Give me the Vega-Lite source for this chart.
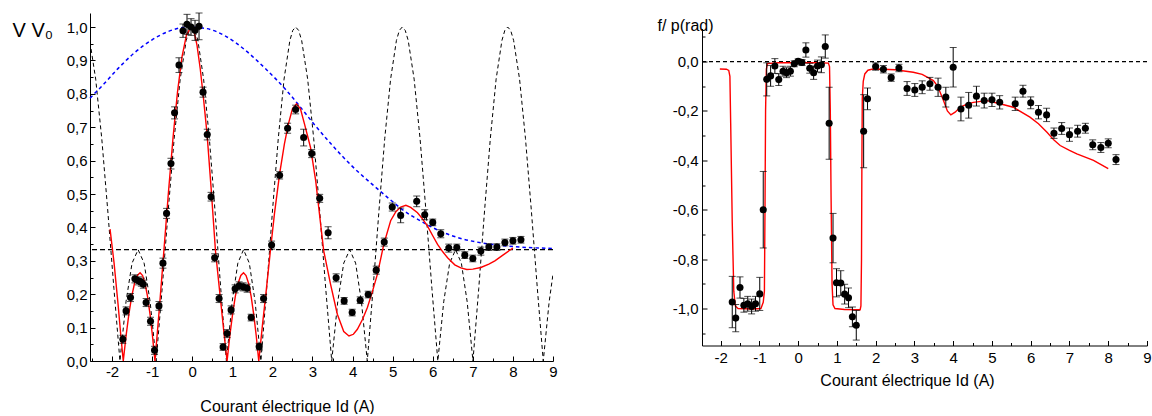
{
  "$schema": "https://vega.github.io/schema/vega-lite/v6.json",
  "padding": {"left": 12, "top": 12, "right": 0, "bottom": 0},
  "background": "white",
  "spacing": 149,
  "bounds": "flush",
  "center": true,
  "config": {
    "view": {"stroke": null},
    "font": "Liberation Sans",
    "axis": {
      "grid": false,
      "domainColor": "black",
      "domainWidth": 1,
      "tickColor": "black",
      "tickWidth": 1,
      "labelColor": "black",
      "titleColor": "black",
      "labelFont": "Liberation Sans",
      "titleFont": "Liberation Sans",
      "labelFontSize": 15,
      "titleFontSize": 16,
      "titleFontWeight": "normal",
      "labelFlush": false,
      "labelOverlap": false
    }
  },
  "datasets": {
    "leftPts": [
      {"I": -1.73, "v": 0.065, "e": 0.012}, {"I": -1.65, "v": 0.150, "e": 0.012}, {"I": -1.54, "v": 0.190, "e": 0.012},
      {"I": -1.43, "v": 0.246, "e": 0.012}, {"I": -1.34, "v": 0.240, "e": 0.012}, {"I": -1.27, "v": 0.236, "e": 0.012},
      {"I": -1.22, "v": 0.230, "e": 0.012}, {"I": -1.15, "v": 0.175, "e": 0.012}, {"I": -1.04, "v": 0.119, "e": 0.012},
      {"I": -0.94, "v": 0.032, "e": 0.012}, {"I": -0.83, "v": 0.165, "e": 0.013}, {"I": -0.73, "v": 0.293, "e": 0.015},
      {"I": -0.64, "v": 0.442, "e": 0.015}, {"I": -0.53, "v": 0.591, "e": 0.016}, {"I": -0.44, "v": 0.743, "e": 0.018},
      {"I": -0.33, "v": 0.886, "e": 0.022}, {"I": -0.23, "v": 0.989, "e": 0.02}, {"I": -0.13, "v": 1.008, "e": 0.03},
      {"I": -0.03, "v": 1.0, "e": 0.025}, {"I": 0.07, "v": 0.99, "e": 0.03}, {"I": 0.17, "v": 1.002, "e": 0.04},
      {"I": 0.27, "v": 0.805, "e": 0.015}, {"I": 0.375, "v": 0.678, "e": 0.016}, {"I": 0.47, "v": 0.492, "e": 0.013},
      {"I": 0.56, "v": 0.309, "e": 0.012}, {"I": 0.67, "v": 0.187, "e": 0.012}, {"I": 0.77, "v": 0.042, "e": 0.01},
      {"I": 0.87, "v": 0.082, "e": 0.012}, {"I": 0.97, "v": 0.153, "e": 0.012}, {"I": 1.07, "v": 0.216, "e": 0.012},
      {"I": 1.17, "v": 0.225, "e": 0.012}, {"I": 1.27, "v": 0.222, "e": 0.012}, {"I": 1.37, "v": 0.218, "e": 0.012},
      {"I": 1.47, "v": 0.13, "e": 0.01}, {"I": 1.67, "v": 0.043, "e": 0.01}, {"I": 1.78, "v": 0.187, "e": 0.012},
      {"I": 1.98, "v": 0.347, "e": 0.012}, {"I": 2.18, "v": 0.556, "e": 0.011}, {"I": 2.38, "v": 0.697, "e": 0.015},
      {"I": 2.58, "v": 0.753, "e": 0.013}, {"I": 2.78, "v": 0.669, "e": 0.025}, {"I": 2.98, "v": 0.621, "e": 0.012},
      {"I": 3.18, "v": 0.487, "e": 0.012}, {"I": 3.39, "v": 0.384, "e": 0.018}, {"I": 3.59, "v": 0.249, "e": 0.012},
      {"I": 3.79, "v": 0.18, "e": 0.01}, {"I": 3.99, "v": 0.145, "e": 0.01}, {"I": 4.19, "v": 0.182, "e": 0.01},
      {"I": 4.39, "v": 0.199, "e": 0.01}, {"I": 4.59, "v": 0.272, "e": 0.012}, {"I": 4.79, "v": 0.356, "e": 0.012},
      {"I": 4.99, "v": 0.461, "e": 0.012}, {"I": 5.2, "v": 0.436, "e": 0.022}, {"I": 5.6, "v": 0.478, "e": 0.016},
      {"I": 5.8, "v": 0.438, "e": 0.015}, {"I": 6.0, "v": 0.415, "e": 0.01}, {"I": 6.2, "v": 0.381, "e": 0.012},
      {"I": 6.4, "v": 0.338, "e": 0.012}, {"I": 6.6, "v": 0.34, "e": 0.01}, {"I": 6.8, "v": 0.317, "e": 0.01},
      {"I": 7.0, "v": 0.307, "e": 0.01}, {"I": 7.2, "v": 0.329, "e": 0.012}, {"I": 7.4, "v": 0.341, "e": 0.01},
      {"I": 7.6, "v": 0.341, "e": 0.01}, {"I": 7.8, "v": 0.355, "e": 0.01}, {"I": 8.0, "v": 0.36, "e": 0.01},
      {"I": 8.2, "v": 0.363, "e": 0.01}
    ],
    "leftFit": [
      {"I": -2.05, "v": 0.395}, {"I": -1.95, "v": 0.294}, {"I": -1.85, "v": 0.17}, {"I": -1.78, "v": 0.075},
      {"I": -1.72, "v": 0}, {"I": -1.65, "v": 0.0755}, {"I": -1.58, "v": 0.1404}, {"I": -1.51, "v": 0.1932},
      {"I": -1.44, "v": 0.232}, {"I": -1.37, "v": 0.256}, {"I": -1.3, "v": 0.264}, {"I": -1.238, "v": 0.256},
      {"I": -1.177, "v": 0.232}, {"I": -1.115, "v": 0.1932}, {"I": -1.053, "v": 0.1404}, {"I": -0.992, "v": 0.0755},
      {"I": -0.93, "v": 0}, {"I": -0.8175, "v": 0.161}, {"I": -0.705, "v": 0.333}, {"I": -0.5925, "v": 0.506},
      {"I": -0.48, "v": 0.667}, {"I": -0.3675, "v": 0.805}, {"I": -0.255, "v": 0.911}, {"I": -0.1425, "v": 0.977},
      {"I": -0.03, "v": 1.0}, {"I": 0.05, "v": 0.985}, {"I": 0.12, "v": 0.945}, {"I": 0.2, "v": 0.875},
      {"I": 0.27, "v": 0.8}, {"I": 0.37, "v": 0.68}, {"I": 0.47, "v": 0.52}, {"I": 0.58, "v": 0.33},
      {"I": 0.7, "v": 0.19}, {"I": 0.8, "v": 0.075}, {"I": 0.87, "v": 0}, {"I": 0.938, "v": 0.0755},
      {"I": 1.007, "v": 0.1404}, {"I": 1.075, "v": 0.1932}, {"I": 1.143, "v": 0.232}, {"I": 1.212, "v": 0.256},
      {"I": 1.28, "v": 0.264}, {"I": 1.343, "v": 0.256}, {"I": 1.407, "v": 0.232}, {"I": 1.47, "v": 0.1932},
      {"I": 1.533, "v": 0.1404}, {"I": 1.597, "v": 0.0755}, {"I": 1.66, "v": 0}, {"I": 1.75, "v": 0.105},
      {"I": 1.85, "v": 0.215}, {"I": 1.95, "v": 0.33}, {"I": 2.05, "v": 0.44}, {"I": 2.18, "v": 0.56},
      {"I": 2.3, "v": 0.65}, {"I": 2.4, "v": 0.71}, {"I": 2.5, "v": 0.755}, {"I": 2.6, "v": 0.77},
      {"I": 2.7, "v": 0.755}, {"I": 2.8, "v": 0.71}, {"I": 2.95, "v": 0.64}, {"I": 3.08, "v": 0.54},
      {"I": 3.16, "v": 0.455}, {"I": 3.28, "v": 0.33}, {"I": 3.45, "v": 0.23}, {"I": 3.62, "v": 0.14},
      {"I": 3.78, "v": 0.088}, {"I": 3.91, "v": 0.075}, {"I": 4.02, "v": 0.08}, {"I": 4.12, "v": 0.095},
      {"I": 4.25, "v": 0.125}, {"I": 4.37, "v": 0.16}, {"I": 4.5, "v": 0.21}, {"I": 4.62, "v": 0.26},
      {"I": 4.78, "v": 0.35}, {"I": 4.95, "v": 0.42}, {"I": 5.08, "v": 0.447}, {"I": 5.2, "v": 0.461},
      {"I": 5.33, "v": 0.466}, {"I": 5.45, "v": 0.46}, {"I": 5.62, "v": 0.444}, {"I": 5.75, "v": 0.425},
      {"I": 5.87, "v": 0.404}, {"I": 6.0, "v": 0.375}, {"I": 6.12, "v": 0.349}, {"I": 6.25, "v": 0.327},
      {"I": 6.37, "v": 0.309}, {"I": 6.55, "v": 0.288}, {"I": 6.7, "v": 0.279}, {"I": 6.85, "v": 0.274},
      {"I": 7.0, "v": 0.275}, {"I": 7.2, "v": 0.28}, {"I": 7.4, "v": 0.29}, {"I": 7.55, "v": 0.3},
      {"I": 7.75, "v": 0.317}, {"I": 7.95, "v": 0.334}, {"I": 8.0, "v": 0.338}
    ],
    "leftIdeal": [
      {"I": -2.55, "v": 0.955}, {"I": -2.408, "v": 0.844}, {"I": -2.257, "v": 0.6667}, {"I": -2.106, "v": 0.4491},
      {"I": -1.954, "v": 0.2176}, {"I": -1.803, "v": 0}, {"I": -1.652, "v": 0.1773}, {"I": -1.501, "v": 0.2931},
      {"I": -1.35, "v": 0.3333}, {"I": -1.2, "v": 0.2931}, {"I": -1.05, "v": 0.1773}, {"I": -0.9, "v": 0},
      {"I": -0.75, "v": 0.2176}, {"I": -0.6, "v": 0.4491}, {"I": -0.45, "v": 0.6667}, {"I": -0.3, "v": 0.844},
      {"I": -0.15, "v": 0.9598}, {"I": -0.075, "v": 0.9899}, {"I": 0, "v": 1}, {"I": 0.071, "v": 0.9899},
      {"I": 0.142, "v": 0.9598}, {"I": 0.284, "v": 0.844}, {"I": 0.427, "v": 0.6667}, {"I": 0.569, "v": 0.4491},
      {"I": 0.711, "v": 0.2176}, {"I": 0.853, "v": 0}, {"I": 0.996, "v": 0.1773}, {"I": 1.138, "v": 0.2931},
      {"I": 1.28, "v": 0.3333}, {"I": 1.424, "v": 0.2931}, {"I": 1.569, "v": 0.1773}, {"I": 1.713, "v": 0},
      {"I": 1.858, "v": 0.2176}, {"I": 2.002, "v": 0.4491}, {"I": 2.147, "v": 0.6667}, {"I": 2.291, "v": 0.844},
      {"I": 2.436, "v": 0.9598}, {"I": 2.508, "v": 0.9899}, {"I": 2.58, "v": 1}, {"I": 2.655, "v": 0.9899},
      {"I": 2.73, "v": 0.9598}, {"I": 2.88, "v": 0.844}, {"I": 3.03, "v": 0.6667}, {"I": 3.18, "v": 0.4491},
      {"I": 3.33, "v": 0.2176}, {"I": 3.48, "v": 0}, {"I": 3.63, "v": 0.1773}, {"I": 3.78, "v": 0.2931},
      {"I": 3.93, "v": 0.3333}, {"I": 4.076, "v": 0.2931}, {"I": 4.221, "v": 0.1773}, {"I": 4.367, "v": 0},
      {"I": 4.512, "v": 0.2176}, {"I": 4.658, "v": 0.4491}, {"I": 4.803, "v": 0.6667}, {"I": 4.949, "v": 0.844},
      {"I": 5.094, "v": 0.9598}, {"I": 5.167, "v": 0.9899}, {"I": 5.24, "v": 1}, {"I": 5.314, "v": 0.9899},
      {"I": 5.388, "v": 0.9598}, {"I": 5.536, "v": 0.844}, {"I": 5.683, "v": 0.6667}, {"I": 5.831, "v": 0.4491},
      {"I": 5.979, "v": 0.2176}, {"I": 6.127, "v": 0}, {"I": 6.274, "v": 0.1773}, {"I": 6.422, "v": 0.2931},
      {"I": 6.57, "v": 0.3333}, {"I": 6.714, "v": 0.2931}, {"I": 6.859, "v": 0.1773}, {"I": 7.003, "v": 0},
      {"I": 7.148, "v": 0.2176}, {"I": 7.292, "v": 0.4491}, {"I": 7.437, "v": 0.6667}, {"I": 7.581, "v": 0.844},
      {"I": 7.726, "v": 0.9598}, {"I": 7.798, "v": 0.9899}, {"I": 7.87, "v": 1}, {"I": 7.944, "v": 0.9899},
      {"I": 8.018, "v": 0.9598}, {"I": 8.166, "v": 0.844}, {"I": 8.313, "v": 0.6667}, {"I": 8.461, "v": 0.4491},
      {"I": 8.609, "v": 0.2176}, {"I": 8.757, "v": 0}, {"I": 8.904, "v": 0.1773}, {"I": 9.0, "v": 0.26}
    ],
    "leftEnv": [
      {"I": -2.55, "v": 0.787}, {"I": -2.2, "v": 0.83}, {"I": -1.84, "v": 0.877}, {"I": -1.43, "v": 0.924},
      {"I": -1.01, "v": 0.961}, {"I": -0.59, "v": 0.987}, {"I": -0.1, "v": 1.0}, {"I": 0.33, "v": 0.996},
      {"I": 0.83, "v": 0.973}, {"I": 1.33, "v": 0.93}, {"I": 1.83, "v": 0.875}, {"I": 2.33, "v": 0.813},
      {"I": 2.6, "v": 0.775}, {"I": 3.0, "v": 0.715}, {"I": 3.5, "v": 0.645}, {"I": 4.0, "v": 0.582},
      {"I": 4.5, "v": 0.528}, {"I": 5.0, "v": 0.477}, {"I": 5.2, "v": 0.457}, {"I": 5.7, "v": 0.419},
      {"I": 6.2, "v": 0.388}, {"I": 6.7, "v": 0.367}, {"I": 7.2, "v": 0.354}, {"I": 7.7, "v": 0.346},
      {"I": 8.2, "v": 0.341}, {"I": 9.0, "v": 0.337}
    ],
    "leftRef": [{"v": 0.3333}],
    "rightPts": [
      {"I": -1.70, "v": -0.974, "e": 0.104}, {"I": -1.61, "v": -1.039, "e": 0.055}, {"I": -1.50, "v": -0.915, "e": 0.043},
      {"I": -1.40, "v": -0.987, "e": 0.028}, {"I": -1.30, "v": -0.981, "e": 0.03}, {"I": -1.20, "v": -0.992, "e": 0.03},
      {"I": -1.10, "v": -0.981, "e": 0.03}, {"I": -0.99, "v": -0.941, "e": 0.067}, {"I": -0.90, "v": -0.600, "e": 0.155},
      {"I": -0.81, "v": -0.072, "e": 0.067}, {"I": -0.71, "v": -0.058, "e": 0.042}, {"I": -0.60, "v": -0.018, "e": 0.03},
      {"I": -0.50, "v": -0.073, "e": 0.024}, {"I": -0.39, "v": -0.039, "e": 0.02}, {"I": -0.30, "v": -0.045, "e": 0.02},
      {"I": -0.20, "v": -0.039, "e": 0.02}, {"I": -0.10, "v": -0.009, "e": 0.012}, {"I": 0.00, "v": 0.001, "e": 0.01},
      {"I": 0.10, "v": -0.004, "e": 0.012}, {"I": 0.20, "v": 0.047, "e": 0.029}, {"I": 0.30, "v": -0.027, "e": 0.02},
      {"I": 0.40, "v": -0.045, "e": 0.027}, {"I": 0.50, "v": -0.018, "e": 0.024}, {"I": 0.60, "v": -0.013, "e": 0.032},
      {"I": 0.70, "v": 0.061, "e": 0.047}, {"I": 0.80, "v": -0.250, "e": 0.146}, {"I": 0.90, "v": -0.715, "e": 0.1},
      {"I": 0.99, "v": -0.896, "e": 0.057}, {"I": 1.10, "v": -0.897, "e": 0.05}, {"I": 1.20, "v": -0.942, "e": 0.04},
      {"I": 1.30, "v": -0.957, "e": 0.04}, {"I": 1.40, "v": -1.034, "e": 0.04}, {"I": 1.50, "v": -1.068, "e": 0.06},
      {"I": 1.69, "v": -0.282, "e": 0.148}, {"I": 1.79, "v": -0.151, "e": 0.044}, {"I": 2.00, "v": -0.020, "e": 0.015},
      {"I": 2.20, "v": -0.031, "e": 0.015}, {"I": 2.40, "v": -0.065, "e": 0.015}, {"I": 2.60, "v": -0.026, "e": 0.015},
      {"I": 2.81, "v": -0.109, "e": 0.028}, {"I": 3.01, "v": -0.115, "e": 0.026}, {"I": 3.20, "v": -0.104, "e": 0.026},
      {"I": 3.40, "v": -0.090, "e": 0.026}, {"I": 3.61, "v": -0.104, "e": 0.037}, {"I": 3.81, "v": -0.144, "e": 0.04},
      {"I": 4.00, "v": -0.023, "e": 0.08}, {"I": 4.20, "v": -0.192, "e": 0.048}, {"I": 4.40, "v": -0.177, "e": 0.052},
      {"I": 4.60, "v": -0.140, "e": 0.04}, {"I": 4.80, "v": -0.158, "e": 0.03}, {"I": 5.00, "v": -0.155, "e": 0.027},
      {"I": 5.20, "v": -0.165, "e": 0.027}, {"I": 5.60, "v": -0.171, "e": 0.027}, {"I": 5.80, "v": -0.120, "e": 0.024},
      {"I": 6.00, "v": -0.167, "e": 0.024}, {"I": 6.20, "v": -0.205, "e": 0.027}, {"I": 6.41, "v": -0.216, "e": 0.027},
      {"I": 6.60, "v": -0.290, "e": 0.021}, {"I": 6.80, "v": -0.271, "e": 0.024}, {"I": 7.00, "v": -0.296, "e": 0.027},
      {"I": 7.21, "v": -0.282, "e": 0.024}, {"I": 7.41, "v": -0.270, "e": 0.02}, {"I": 7.60, "v": -0.337, "e": 0.02},
      {"I": 7.81, "v": -0.348, "e": 0.02}, {"I": 8.00, "v": -0.331, "e": 0.018}, {"I": 8.20, "v": -0.397, "e": 0.02}
    ],
    "rightFit": [
      {"I": -2.02, "v": -0.03}, {"I": -1.85, "v": -0.031}, {"I": -1.79, "v": -0.036}, {"I": -1.76, "v": -0.06},
      {"I": -1.74, "v": -0.25}, {"I": -1.7, "v": -0.65}, {"I": -1.66, "v": -0.93}, {"I": -1.62, "v": -0.99},
      {"I": -1.55, "v": -1.0}, {"I": -1.2, "v": -1.002}, {"I": -0.96, "v": -1.0}, {"I": -0.9, "v": -0.975},
      {"I": -0.87, "v": -0.93}, {"I": -0.855, "v": -0.6}, {"I": -0.84, "v": -0.2}, {"I": -0.82, "v": -0.03},
      {"I": -0.79, "v": -0.008}, {"I": -0.5, "v": -0.005}, {"I": 0.5, "v": -0.005}, {"I": 0.78, "v": -0.006},
      {"I": 0.81, "v": -0.02}, {"I": 0.83, "v": -0.2}, {"I": 0.85, "v": -0.55}, {"I": 0.875, "v": -0.9},
      {"I": 0.9, "v": -0.985}, {"I": 0.95, "v": -1.0}, {"I": 1.2, "v": -1.004}, {"I": 1.6, "v": -1.005},
      {"I": 1.62, "v": -0.99}, {"I": 1.635, "v": -0.8}, {"I": 1.645, "v": -0.4}, {"I": 1.655, "v": -0.15},
      {"I": 1.68, "v": -0.08}, {"I": 1.72, "v": -0.05}, {"I": 1.8, "v": -0.035}, {"I": 1.9, "v": -0.031},
      {"I": 2.03, "v": -0.03}, {"I": 2.5, "v": -0.033}, {"I": 2.97, "v": -0.043}, {"I": 3.2, "v": -0.052},
      {"I": 3.49, "v": -0.077}, {"I": 3.6, "v": -0.1}, {"I": 3.75, "v": -0.158}, {"I": 3.85, "v": -0.2},
      {"I": 3.94, "v": -0.216}, {"I": 4.05, "v": -0.205}, {"I": 4.18, "v": -0.185}, {"I": 4.35, "v": -0.172},
      {"I": 4.52, "v": -0.165}, {"I": 4.87, "v": -0.158}, {"I": 5.21, "v": -0.171}, {"I": 5.55, "v": -0.185},
      {"I": 5.98, "v": -0.225}, {"I": 6.2, "v": -0.252}, {"I": 6.42, "v": -0.286}, {"I": 6.6, "v": -0.318},
      {"I": 6.76, "v": -0.34}, {"I": 7.0, "v": -0.36}, {"I": 7.19, "v": -0.374}, {"I": 7.62, "v": -0.4},
      {"I": 8.0, "v": -0.434}
    ],
    "rightRef": [{"v": 0}]
  },
  "hconcat": [
    {
      "width": 463,
      "height": 348,
      "resolve": {"axis": {"x": "independent", "y": "independent"}},
      "layer": [
        {
          "data": {"name": "leftIdeal"},
          "mark": {"type": "line", "color": "black", "strokeWidth": 1, "strokeDash": [4, 3], "clip": true},
          "encoding": {
            "x": {"field": "I", "type": "quantitative", "scale": {"domain": [-2.55, 9], "nice": false, "zero": false},
              "axis": {"orient": "bottom", "values": [-2.5, -1.5, -0.5, 0.5, 1.5, 2.5, 3.5, 4.5, 5.5, 6.5, 7.5, 8.5], "offset": -3, "tickSize": 3, "labels": false, "domain": false, "title": null}},
            "y": {"field": "v", "type": "quantitative", "scale": {"domain": [0, 1.042], "nice": false, "zero": false},
              "axis": {"orient": "left", "values": [0.05, 0.15, 0.25, 0.35, 0.45, 0.55, 0.65, 0.75, 0.85, 0.95], "offset": -3, "tickSize": 3, "labels": false, "domain": false, "title": null}}
          }
        },
        {
          "data": {"name": "leftEnv"},
          "mark": {"type": "line", "color": "#0000ff", "strokeWidth": 1.5, "strokeDash": [3.5, 3], "interpolate": "monotone"},
          "encoding": {
            "x": {"field": "I", "type": "quantitative", "scale": {"domain": [-2.55, 9], "nice": false, "zero": false}, "axis": null},
            "y": {"field": "v", "type": "quantitative", "scale": {"domain": [0, 1.042], "nice": false, "zero": false}, "axis": null}
          }
        },
        {
          "data": {"name": "leftRef"},
          "mark": {"type": "rule", "color": "black", "strokeWidth": 1.3, "strokeDash": [5, 3]},
          "encoding": {
            "y": {"field": "v", "type": "quantitative", "scale": {"domain": [0, 1.042], "nice": false, "zero": false}, "axis": null}
          }
        },
        {
          "data": {"name": "leftFit"},
          "mark": {"type": "line", "color": "#ff0000", "strokeWidth": 1.4},
          "encoding": {
            "x": {"field": "I", "type": "quantitative", "scale": {"domain": [-2.55, 9], "nice": false, "zero": false},
              "axis": {"orient": "bottom", "values": [-2, -1, 0, 1, 2, 3, 4, 5, 6, 7, 8, 9], "offset": -5, "tickSize": 5, "labels": false, "domain": false, "title": null}},
            "y": {"field": "v", "type": "quantitative", "scale": {"domain": [0, 1.042], "nice": false, "zero": false},
              "axis": {"orient": "left", "values": [0, 0.1, 0.2, 0.3, 0.4, 0.5, 0.6, 0.7, 0.8, 0.9, 1.0], "offset": -5, "tickSize": 5, "labels": false, "domain": false, "title": null}}
          }
        },
        {
          "data": {"name": "leftPts"},
          "mark": {"type": "errorbar", "color": "black", "thickness": 1, "ticks": {"size": 7, "color": "black"}},
          "encoding": {
            "x": {"field": "I", "type": "quantitative", "scale": {"domain": [-2.55, 9], "nice": false, "zero": false}, "axis": null},
            "y": {"field": "v", "type": "quantitative", "scale": {"domain": [0, 1.042], "nice": false, "zero": false}, "axis": null},
            "yError": {"field": "e"}
          }
        },
        {
          "data": {"name": "leftPts"},
          "mark": {"type": "circle", "color": "black", "size": 50, "opacity": 1},
          "encoding": {
            "x": {"field": "I", "type": "quantitative", "scale": {"domain": [-2.55, 9], "nice": false, "zero": false},
              "axis": {"orient": "bottom", "values": [-2, -1, 0, 1, 2, 3, 4, 5, 6, 7, 8, 9], "ticks": false, "tickSize": 0, "labelPadding": 3,
                "labelExpr": "replace(format(datum.value, 'd'), '\u2212', '-')",
                "title": "Courant électrique Id (A)", "titleX": 197, "titleY": 50, "titleBaseline": "alphabetic", "titleAlign": "center"}},
            "y": {"field": "v", "type": "quantitative", "scale": {"domain": [0, 1.042], "nice": false, "zero": false},
              "axis": {"orient": "left", "values": [0, 0.1, 0.2, 0.3, 0.4, 0.5, 0.6, 0.7, 0.8, 0.9, 1.0], "ticks": false, "tickSize": 0, "labelPadding": 3,
                "labelExpr": "replace(format(datum.value, '.1f'), '.', ',')",
                "title": "V V₀", "titleAngle": 0, "titleAlign": "left", "titleBaseline": "alphabetic", "titleX": -78, "titleY": 23, "titleFontSize": 20}}
          }
        }
      ]
    },
    {
      "width": 445,
      "height": 317,
      "resolve": {"axis": {"x": "independent", "y": "independent"}},
      "layer": [
        {
          "data": {"name": "rightRef"},
          "mark": {"type": "rule", "color": "black", "strokeWidth": 1.2, "strokeDash": [4, 3]},
          "encoding": {
            "y": {"field": "v", "type": "quantitative", "scale": {"domain": [-1.15, 0.134], "nice": false, "zero": false},
              "axis": {"orient": "left", "values": [-1.1, -0.9, -0.7, -0.5, -0.3, -0.1, 0.1], "offset": -3, "tickSize": 3, "labels": false, "domain": false, "title": null}}
          }
        },
        {
          "data": {"name": "rightFit"},
          "mark": {"type": "line", "color": "#ff0000", "strokeWidth": 1.4},
          "encoding": {
            "x": {"field": "I", "type": "quantitative", "scale": {"domain": [-2.48, 9], "nice": false, "zero": false},
              "axis": {"orient": "bottom", "values": [-2, -1, 0, 1, 2, 3, 4, 5, 6, 7, 8, 9], "offset": -5, "tickSize": 5, "labels": false, "domain": false, "title": null}},
            "y": {"field": "v", "type": "quantitative", "scale": {"domain": [-1.15, 0.134], "nice": false, "zero": false},
              "axis": {"orient": "left", "values": [-1.0, -0.8, -0.6, -0.4, -0.2, 0], "offset": -5, "tickSize": 5, "labels": false, "domain": false, "title": null}}
          }
        },
        {
          "data": {"name": "rightPts"},
          "mark": {"type": "errorbar", "color": "black", "thickness": 1, "ticks": {"size": 7, "color": "black"}},
          "encoding": {
            "x": {"field": "I", "type": "quantitative", "scale": {"domain": [-2.48, 9], "nice": false, "zero": false},
              "axis": {"orient": "bottom", "values": [-1.5, -0.5, 0.5, 1.5, 2.5, 3.5, 4.5, 5.5, 6.5, 7.5, 8.5], "offset": -3, "tickSize": 3, "labels": false, "domain": false, "title": null}},
            "y": {"field": "v", "type": "quantitative", "scale": {"domain": [-1.15, 0.134], "nice": false, "zero": false}, "axis": null},
            "yError": {"field": "e"}
          }
        },
        {
          "data": {"name": "rightPts"},
          "mark": {"type": "circle", "color": "black", "size": 50, "opacity": 1},
          "encoding": {
            "x": {"field": "I", "type": "quantitative", "scale": {"domain": [-2.48, 9], "nice": false, "zero": false},
              "axis": {"orient": "bottom", "values": [-2, -1, 0, 1, 2, 3, 4, 5, 6, 7, 8, 9], "ticks": false, "tickSize": 0, "labelPadding": 5,
                "labelExpr": "replace(format(datum.value, 'd'), '\u2212', '-')",
                "title": "Courant électrique Id (A)", "titleX": 205, "titleY": 40, "titleBaseline": "alphabetic", "titleAlign": "center"}},
            "y": {"field": "v", "type": "quantitative", "scale": {"domain": [-1.15, 0.134], "nice": false, "zero": false},
              "axis": {"orient": "left", "values": [-1.0, -0.8, -0.6, -0.4, -0.2, 0], "ticks": false, "tickSize": 0, "labelPadding": 4,
                "labelExpr": "replace(replace(format(datum.value, '.1f'), '.', ','), '\u2212', '-')",
                "title": "f/ p(rad)", "titleAngle": 0, "titleAlign": "left", "titleBaseline": "alphabetic", "titleX": -45, "titleY": 1.5, "titleFontSize": 16}}
          }
        }
      ]
    }
  ]
}
